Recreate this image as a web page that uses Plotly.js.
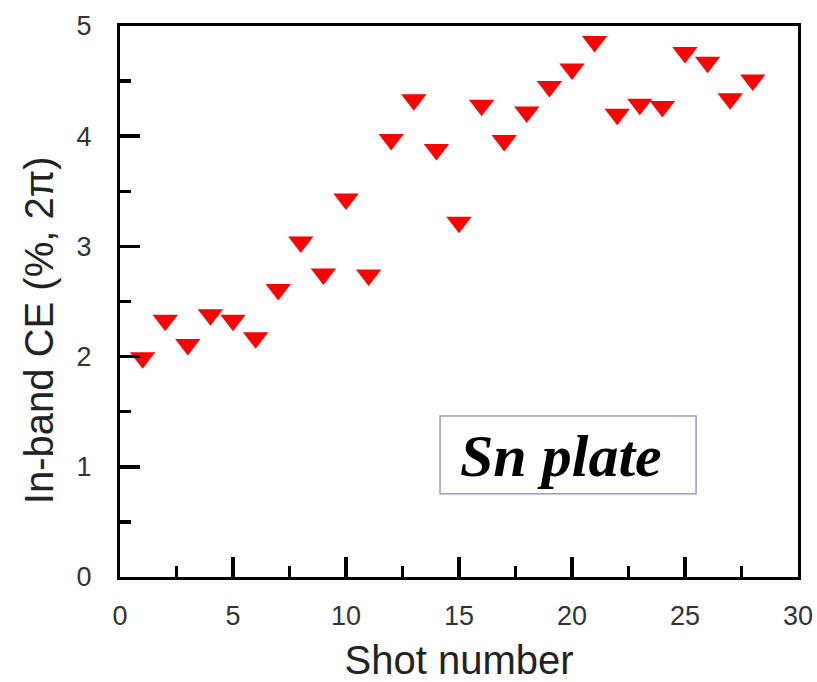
<!DOCTYPE html>
<html>
<head>
<meta charset="utf-8">
<script src="https://cdn.plot.ly/plotly-3.0.1.min.js"></script>
<style>html,body{margin:0;padding:0;background:#fff;}#chart{width:817px;height:682px;}</style>
</head>
<body>
<div id="chart"></div>
<script>
const shotNumber = [1,2,3,4,5,6,7,8,9,10,11,12,13,14,15,16,17,18,19,20,21,22,23,24,25,26,27,28];
const inBandCE = [1.99,2.33,2.11,2.38,2.33,2.17,2.61,3.04,2.75,3.43,2.74,3.97,4.33,3.88,3.22,4.28,3.96,4.22,4.45,4.61,4.86,4.20,4.29,4.27,4.76,4.67,4.34,4.51];
const xTickVals = [0,5,10,15,20,25,30];
const yTickVals = [0,1,2,3,4,5];
const xTitle = "Shot number";
const yTitle = "In-band CE (%, 2π)";
const labelText = "Sn plate";

const trace = {
  x: shotNumber, y: inBandCE, type: 'scatter', mode: 'markers',
  marker: {symbol: 'triangle-down', size: 22, color: '#ff0000', line: {width: 0}},
  cliponaxis: false, hoverinfo: 'skip'
};

const axisCommon = {
  showgrid: false, zeroline: false, showline: true, linecolor: '#000', linewidth: 3,
  mirror: true, ticks: 'inside', ticklen: 20, tickwidth: 3.5, tickcolor: '#000',
  tickfont: {family: 'Liberation Sans, Arial, sans-serif', size: 27, color: '#333'},
  fixedrange: true
};

const layout = {
  width: 817, height: 682,
  margin: {l: 120, r: 19, t: 26, b: 105},
  paper_bgcolor: '#fff', plot_bgcolor: '#fff',
  showlegend: false,
  xaxis: Object.assign({}, axisCommon, {
    range: [0, 30], tickvals: xTickVals, ticklabelstandoff: 13,
    minor: {dtick: 2.5, ticks: 'inside', ticklen: 11, tickwidth: 3.5, tickcolor: '#000', showgrid: false},
    title: {text: xTitle, font: {family: 'Liberation Sans, Arial, sans-serif', size: 40, color: '#222'}, standoff: 16}
  }),
  yaxis: Object.assign({}, axisCommon, {
    range: [0, 5], tickvals: yTickVals, ticklabelstandoff: 20,
    minor: {dtick: 0.5, ticks: 'inside', ticklen: 11, tickwidth: 3.5, tickcolor: '#000', showgrid: false}
  }),
  shapes: [{
    type: 'rect', xref: 'x', yref: 'y', x0: 14.16, x1: 25.49, y0: 0.755, y1: 1.46,
    line: {color: '#9a9ac8', width: 1.5}, fillcolor: 'rgba(0,0,0,0)'
  }],
  annotations: [{
    xref: 'x', yref: 'y', x: 19.5, y: 1.10, text: '<b><i>' + labelText + '</i></b>',
    showarrow: false, xanchor: 'center', yanchor: 'middle',
    font: {family: 'Liberation Serif, Times New Roman, serif', size: 60, color: '#000'}
  }, {
    xref: 'paper', yref: 'paper', x: -0.1195, y: 0.448, text: yTitle, textangle: -90,
    showarrow: false, xanchor: 'center', yanchor: 'middle',
    font: {family: 'Liberation Sans, Arial, sans-serif', size: 40, color: '#222'}
  }]
};

Plotly.newPlot('chart', [trace], layout, {displayModeBar: false, staticPlot: true});
</script>
</body>
</html>
